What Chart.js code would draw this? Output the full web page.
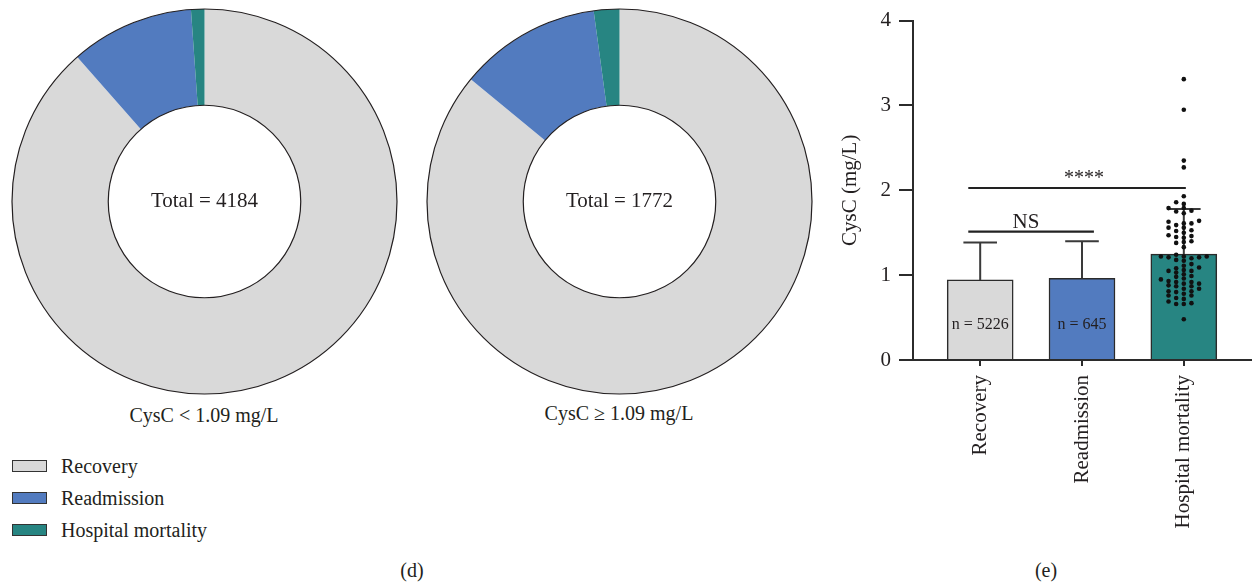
<!DOCTYPE html>
<html>
<head>
<meta charset="utf-8">
<script src="https://cdn.jsdelivr.net/npm/chart.js@4.4.1/dist/chart.umd.min.js"></script>
<style>
  html, body { margin: 0; padding: 0; background: #fff; }
  body { width: 1255px; height: 584px; position: relative; overflow: hidden;
         font-family: 'Liberation Serif', 'Times New Roman', serif; color: #231f20; }
  .box { position: absolute; }
  .cap { position: absolute; font-size: 20px; line-height: 24px; text-align: center; white-space: nowrap; }
  .leg { position: absolute; left: 12px; font-size: 20px; line-height: 24px; white-space: nowrap; }
  .leg i { position: absolute; left: 0; width: 33px; height: 10px; border: 1px solid #333; }
  .leg span { position: absolute; left: 49px; top: -6px; }
</style>
</head>
<body>
<div class="box" style="left:10px;top:7px;width:389px;height:389px;"><canvas id="ringLow"></canvas></div>
<div class="box" style="left:425px;top:7px;width:389px;height:389px;"><canvas id="ringHigh"></canvas></div>
<div class="box" style="left:838px;top:0px;width:417px;height:540px;"><canvas id="bars"></canvas></div>

<div class="cap" style="left:104px;top:403px;width:200px;">CysC &lt; 1.09 mg/L</div>
<div class="cap" style="left:519px;top:401px;width:200px;">CysC ≥ 1.09 mg/L</div>

<div id="legend"></div>

<div class="cap" style="left:392px;top:558px;width:40px;">(d)</div>
<div class="cap" style="left:1026px;top:558px;width:40px;">(e)</div>

<script>
// Outcome groups and their fill colours
const outcomes = ['Recovery', 'Readmission', 'Hospital mortality'];
const outcomeColors = ['#d9d9d9', '#527bbf', '#278582'];

// Patient counts per outcome, split by CysC cut-off
const countsLow = [3703, 434, 47];    // CysC < 1.09 mg/L
const countsHigh = [1523, 211, 38];   // CysC >= 1.09 mg/L

// CysC summary per outcome (mg/L): mean and SD
const cysMean = [0.944, 0.963, 1.248];
const cysSD = [0.44, 0.437, 0.532];
const groupN = [5226, 645, null];

// Individual CysC values (mg/L) for hospital mortality patients
const mortalityCysC = [
  3.31, 2.95, 2.35, 2.27,
  1.93, 1.86, 1.84, 1.79, 1.79, 1.76, 1.75, 1.73, 1.64, 1.63, 1.61, 1.61,
  1.59, 1.56, 1.56, 1.53, 1.52, 1.50, 1.47, 1.46, 1.45, 1.44, 1.40, 1.39,
  1.38, 1.33,
  1.24, 1.22, 1.22, 1.22, 1.21, 1.21, 1.20, 1.18, 1.17, 1.13, 1.11, 1.09,
  1.08, 1.06, 1.05, 1.05, 1.03, 1.01, 0.99, 0.98, 0.96, 0.95, 0.93, 0.92,
  0.92, 0.90, 0.90, 0.88, 0.87, 0.87, 0.84, 0.84, 0.81, 0.81, 0.80, 0.78,
  0.76, 0.76, 0.73, 0.72, 0.69, 0.67, 0.66, 0.66, 0.48
];

// Y axis ticks
const yTicks = [0, 1, 2, 3, 4];

// Pairwise comparisons drawn above the bars
const comparisons = [
  { from: 0.883, to: 3.02, level: 2.027, text: '****', textAt: 2.02, font: 20 },
  { from: 0.883, to: 2.117, level: 1.512, text: 'NS', textAt: 1.45, font: 21 }
];

const INK = '#231f20';
const AXIS = '#2b2b2b';
const SERIF = "'Liberation Serif', 'Times New Roman', serif";
Chart.defaults.font.family = SERIF;
Chart.defaults.color = INK;
Chart.defaults.animation = false;

// Legend built from the outcome list
const legendHost = document.getElementById('legend');
outcomes.forEach((name, i) => {
  const row = document.createElement('div');
  row.className = 'leg';
  row.style.top = (460 + i * 32) + 'px';
  row.innerHTML = '<i style="background:' + outcomeColors[i] + '"></i><span>' + name + '</span>';
  legendHost.appendChild(row);
});

// Black outer/inner ring outline plus the total in the hole
const ringDecor = {
  id: 'ringDecor',
  afterDatasetsDraw(chart) {
    const arc = chart.getDatasetMeta(0).data[0];
    if (!arc) return;
    const p = arc.getProps(['x', 'y', 'innerRadius', 'outerRadius'], true);
    const ctx = chart.ctx;
    ctx.save();
    ctx.strokeStyle = INK;
    ctx.lineWidth = 1.2;
    ctx.beginPath(); ctx.arc(p.x, p.y, p.outerRadius, 0, Math.PI * 2); ctx.stroke();
    ctx.beginPath(); ctx.arc(p.x, p.y, p.innerRadius, 0, Math.PI * 2); ctx.stroke();
    const total = chart.data.datasets[0].data.reduce((a, b) => a + b, 0);
    ctx.fillStyle = INK;
    ctx.font = '21px ' + SERIF;
    ctx.textAlign = 'center';
    ctx.textBaseline = 'middle';
    ctx.fillText('Total = ' + total, p.x, p.y);
    ctx.restore();
  }
};

function makeRing(id, counts) {
  new Chart(document.getElementById(id), {
    type: 'doughnut',
    data: {
      labels: outcomes,
      datasets: [{ data: counts, backgroundColor: outcomeColors, borderWidth: 0, hoverOffset: 0, offset: 0 }]
    },
    options: {
      responsive: true,
      maintainAspectRatio: false,
      cutout: '50%',
      layout: { padding: 2 },
      plugins: { legend: { display: false }, tooltip: { enabled: false } },
      events: []
    },
    plugins: [ringDecor]
  });
}
makeRing('ringLow', countsLow);
makeRing('ringHigh', countsHigh);

// Simple column-based swarm layout for the individual points
function swarm(values, center, step, gap) {
  const slots = [0, -1, 1, -2, 2, -3, 3, -4, 4, -5, 5];
  const placed = [];
  values.map((v, i) => i).sort((a, b) => values[a] - values[b]).forEach(i => {
    const v = values[i];
    for (const s of slots) {
      if (!placed.some(q => q.s === s && Math.abs(q.y - v) < gap)) { placed.push({ s, y: v }); break; }
    }
  });
  return placed.map(q => ({ x: center + q.s * step, y: q.y }));
}

// SD whiskers (upper only) drawn right after the bars
const whiskers = {
  id: 'whiskers',
  afterDatasetDraw(chart, args) {
    if (args.index !== 0) return;
    const xs = chart.scales.x, ys = chart.scales.y, ctx = chart.ctx;
    ctx.save();
    ctx.strokeStyle = '#3a3a3a';
    ctx.lineWidth = 2;
    cysMean.forEach((m, i) => {
      const px = xs.getPixelForValue(i + 1);
      const half = xs.getPixelForValue(i + 1.165) - px;
      const yTop = ys.getPixelForValue(m + cysSD[i]);
      const yBase = ys.getPixelForValue(m);
      ctx.beginPath();
      ctx.moveTo(px, yBase); ctx.lineTo(px, yTop);
      ctx.moveTo(px - half, yTop); ctx.lineTo(px + half, yTop);
      ctx.stroke();
    });
    ctx.restore();
  }
};

// Comparison brackets and n labels
const notes = {
  id: 'notes',
  afterDatasetsDraw(chart) {
    const xs = chart.scales.x, ys = chart.scales.y, ctx = chart.ctx;
    ctx.save();
    ctx.strokeStyle = '#222';
    ctx.lineWidth = 2.2;
    ctx.fillStyle = INK;
    ctx.textAlign = 'center';
    comparisons.forEach(c => {
      const y = ys.getPixelForValue(c.level);
      ctx.beginPath();
      ctx.moveTo(xs.getPixelForValue(c.from), y);
      ctx.lineTo(xs.getPixelForValue(c.to), y);
      ctx.stroke();
      ctx.font = c.font + 'px ' + SERIF;
      ctx.textBaseline = 'alphabetic';
      ctx.fillText(c.text, xs.getPixelForValue(c.textAt), y - 4);
    });
    ctx.font = '16px ' + SERIF;
    ctx.textBaseline = 'middle';
    groupN.forEach((n, i) => {
      if (n == null) return;
      ctx.fillText('n = ' + n, xs.getPixelForValue(i + 1), ys.getPixelForValue(0.41));
    });
    ctx.restore();
  }
};

new Chart(document.getElementById('bars'), {
  type: 'bar',
  data: {
    datasets: [
      {
        type: 'bar',
        data: cysMean.map((m, i) => ({ x: i + 1, y: m })),
        backgroundColor: outcomeColors,
        borderColor: AXIS,
        borderWidth: 1.5,
        barThickness: 66,
        order: 1
      },
      {
        type: 'scatter',
        data: swarm(mortalityCysC, 3, 0.075, 0.05),
        pointRadius: 2.3,
        pointBackgroundColor: '#111',
        pointBorderWidth: 0,
        order: 0
      }
    ]
  },
  options: {
    responsive: true,
    maintainAspectRatio: false,
    layout: { padding: { top: 18, left: 0, right: 0, bottom: 0 } },
    plugins: { legend: { display: false }, tooltip: { enabled: false } },
    events: [],
    scales: {
      x: {
        type: 'linear',
        min: 0.34,
        max: 3.66,
        offset: false,
        afterBuildTicks: ax => { ax.ticks = outcomes.map((o, i) => ({ value: i + 1 })); },
        afterFit: ax => { ax.height = 180; },
        ticks: {
          callback: v => outcomes[v - 1] || '',
          minRotation: 90, maxRotation: 90, autoSkip: false,
          padding: 9, font: { size: 21 }, color: INK
        },
        grid: { display: true, offset: false, drawOnChartArea: false, drawTicks: true, tickLength: 6, lineWidth: 2, color: AXIS },
        border: { display: true, width: 2, color: AXIS }
      },
      y: {
        min: 0,
        max: 4,
        afterBuildTicks: ax => { ax.ticks = yTicks.map(v => ({ value: v })); },
        afterFit: ax => { ax.width = 75; },
        ticks: { padding: 8, font: { size: 21 }, color: INK },
        grid: { display: true, drawOnChartArea: false, drawTicks: true, tickLength: 14, lineWidth: 2, color: AXIS },
        border: { display: true, width: 2, color: AXIS },
        title: { display: true, text: 'CysC (mg/L)', font: { size: 21 }, color: INK, padding: { top: 0, bottom: 0 } }
      }
    }
  },
  plugins: [whiskers, notes]
});
</script>
</body>
</html>
